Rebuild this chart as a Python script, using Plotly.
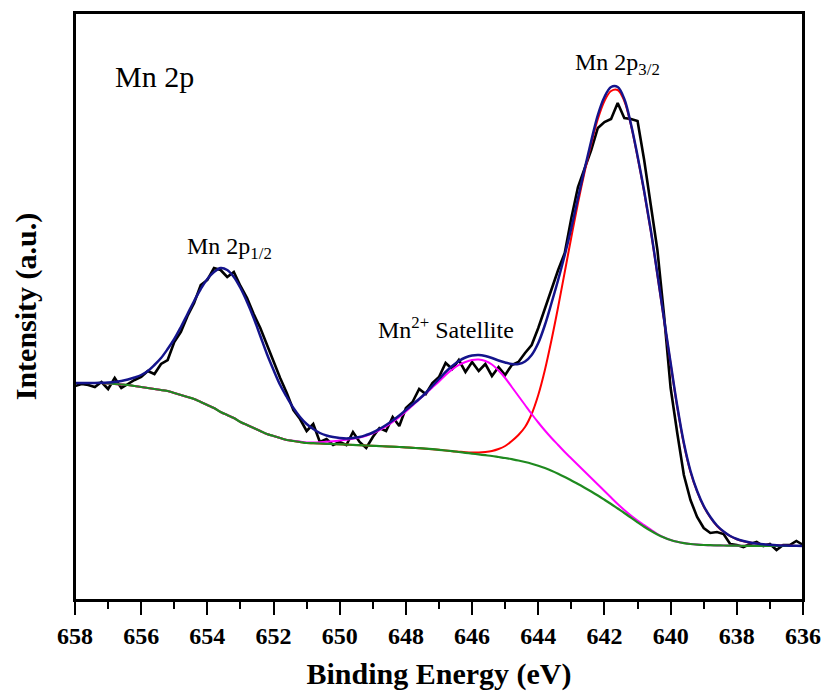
import plotly.graph_objects as go

# Binding energy grid (eV), 0.2 eV steps from 658 to 636
energy = [round(658 - 0.2 * i, 1) for i in range(111)]

# Measured spectrum (black), a.u.
data = [214, 216, 215, 213, 218, 211, 222, 212, 216, 220,
        223, 229, 226, 236, 240, 258, 268, 284, 297, 315,
        320, 332, 330, 323, 328, 314, 302, 286, 272, 255,
        238, 222, 207, 190, 181, 169, 176, 158, 161, 155,
        158, 155, 168, 158, 152, 163, 172, 169, 183, 174,
        192, 198, 211, 206, 217, 223, 237, 231, 240, 228,
        238, 229, 236, 224, 233, 225, 235, 238, 247, 255,
        272, 292, 310, 330, 347, 382, 413, 432, 450, 472,
        478, 481, 497, 482, 481, 479, 440, 395, 350, 285,
        212, 167, 125, 100, 83, 72, 67, 68, 66, 56,
        55, 53, 56, 58, 54, 56, 50, 55, 55, 59,
        55]

# Fitted envelope (navy)
envelope = [217, 217, 217, 217, 217.2, 217.5, 218, 219, 220.5, 222.5,
            225, 229, 235, 242, 251, 261, 273, 286, 299, 311,
            321, 328, 332, 330, 323, 312, 298, 282, 264, 246,
            230, 215, 203, 192, 183, 176, 171, 167, 164.5, 163,
            162, 161.5, 162, 163, 165, 167.5, 171, 175, 179.5, 184.5,
            190, 195.5, 201, 207, 214, 221, 228, 234, 239, 242.5,
            244.5, 245, 244, 242, 239.5, 237.5, 236, 236, 238.5, 245,
            257, 275, 297, 320, 345, 372, 402, 431, 459, 485,
            503, 513, 513, 501, 476, 444, 409, 370, 326, 281,
            237, 194, 157, 129, 109, 94, 83, 74.5, 68.5, 64,
            61, 59, 57.5, 56.5, 55.7, 55.2, 54.8, 54.5, 54.3, 54.2,
            54.1]

# Background (green)
background = [217, 217, 217, 217, 217, 216.5, 216, 215.5, 215, 214,
              213, 212, 211, 210, 209, 207, 205, 203, 201, 198,
              195, 192, 188, 185, 182, 178, 175, 172, 169, 166,
              164, 162, 160, 159, 158, 157, 156.8, 156.5, 156.2, 156,
              155.7, 155.4, 155.1, 154.8, 154.5, 154.2, 153.9, 153.6, 153.3, 153,
              152.6, 152.2, 151.8, 151.3, 150.8, 150.2, 149.5, 148.8, 148, 147.2,
              146.4, 145.6, 144.8, 144, 143, 142, 140.8, 139.5, 138, 136.3,
              134.3, 132, 129.3, 126.3, 123, 119.5, 116, 112.3, 108.5, 104.5,
              100.3, 96, 91.5, 87, 82.3, 77.7, 73.3, 69.2, 65.6, 62.5,
              60, 58.2, 56.9, 56, 55.4, 55, 54.8, 54.6, 54.5, 54.4,
              54.3, 54.2, 54.2, 54.1, 54.1, 54, 54, 54, 54, 54,
              54]

# Mn 2p3/2 component + background (red)
comp_2p32 = [217, 217, 217, 217, 217, 216.5, 216, 215.5, 215, 214,
             213, 212, 211, 210, 209, 207, 205, 203, 201, 198,
             195, 192, 188, 185, 182, 178, 175, 172, 169, 166,
             164, 162, 160, 159, 158, 157, 156.8, 156.5, 156.2, 156,
             155.7, 155.4, 155.1, 154.8, 154.5, 154.2, 153.9, 153.6, 153.3, 153,
             152.6, 152.2, 151.8, 151.3, 150.8, 150.2, 149.5, 148.8, 148.3, 147.8,
             147.5, 147.5, 148, 149, 151, 154, 159, 165, 173, 186,
             205, 230, 260, 293, 328, 363, 397, 428, 456, 481,
             499, 509, 510, 499, 475, 443, 408, 369, 325, 280,
             236, 193, 156, 128, 108.5, 93.5, 82.5, 74, 68.2, 63.8,
             60.8, 58.8, 57.4, 56.4, 55.6, 55.1, 54.7, 54.4, 54.2, 54.1,
             54]

# Mn2+ satellite component + background (magenta)
comp_sat = [217, 217, 217, 217, 217, 216.5, 216, 215.5, 215, 214,
            213, 212, 211, 210, 209, 207, 205, 203, 201, 198,
            195, 192, 188, 185, 182, 178, 175, 172, 169, 166,
            164, 162, 160, 159.2, 158.4, 157.6, 157.6, 157.8, 158.2, 158.8,
            159.5, 160.3, 161.3, 162.5, 164.3, 166.6, 169.8, 173.5, 178, 183,
            188.5, 194.5, 200.5, 206.5, 212.5, 218.5, 225, 230.5, 235, 238,
            240, 240.5, 239, 235.5, 229.5, 222, 213, 204, 195, 186,
            177.5, 169.5, 162, 155, 148, 141.5, 135, 128.5, 122, 115.5,
            109, 102.5, 96, 90, 84.5, 79.5, 75, 70.5, 66, 62.5,
            60, 58.2, 56.9, 56, 55.4, 55, 54.8, 54.6, 54.5, 54.4,
            54.3, 54.2, 54.2, 54.1, 54.1, 54, 54, 54, 54, 54,
            54]

FONT = "Liberation Serif"

fig = go.Figure()
fig.add_trace(go.Scatter(x=energy, y=data, mode="lines",
                         line=dict(color="black", width=2.6)))
fig.add_trace(go.Scatter(x=energy, y=comp_2p32, mode="lines",
                         line=dict(color="#ff0000", width=2, shape="spline")))
fig.add_trace(go.Scatter(x=energy, y=comp_sat, mode="lines",
                         line=dict(color="#ff00ff", width=2, shape="spline")))
fig.add_trace(go.Scatter(x=energy, y=background, mode="lines",
                         line=dict(color="#1f8a1f", width=2.2, shape="spline")))
fig.add_trace(go.Scatter(x=energy, y=envelope, mode="lines",
                         line=dict(color="#14148c", width=2.5, shape="spline")))

ann_font = dict(family=FONT, size=24, color="black")
fig.add_annotation(x=656.85, y=524, xref="x", yref="y", text="Mn 2p",
                   showarrow=False, xanchor="left", yanchor="middle",
                   font=dict(family=FONT, size=30, color="black"))
fig.add_annotation(x=654.68, y=352, xref="x", yref="y",
                   text="Mn 2p<sub>1/2</sub>", showarrow=False,
                   xanchor="left", yanchor="middle", font=ann_font)
fig.add_annotation(x=642.95, y=536, xref="x", yref="y",
                   text="Mn 2p<sub>3/2</sub>", showarrow=False,
                   xanchor="left", yanchor="middle", font=ann_font)
fig.add_annotation(x=648.9, y=272, xref="x", yref="y",
                   text="Mn<sup>2+</sup> Satellite", showarrow=False,
                   xanchor="left", yanchor="middle", font=ann_font)

# plot frame
fig.add_shape(type="rect", xref="paper", yref="paper", x0=0, x1=1, y0=0, y1=1,
              line=dict(color="black", width=2), fillcolor="rgba(0,0,0,0)",
              layer="above")

fig.update_layout(
    width=826, height=693,
    margin=dict(l=75, r=23, t=13, b=93, autoexpand=False),
    paper_bgcolor="white", plot_bgcolor="white",
    showlegend=False,
    font=dict(family=FONT, color="black"),
)
fig.update_xaxes(
    automargin=False,
    range=[658, 636], autorange=False,
    tick0=636, dtick=2, ticks="outside", ticklen=13, tickwidth=2,
    tickcolor="black",
    minor=dict(ticks="outside", ticklen=7, tickwidth=2, dtick=1,
               tickcolor="black", showgrid=False),
    showline=True, linewidth=2, linecolor="black", mirror=True,
    showgrid=False, zeroline=False,
    tickfont=dict(family=FONT, size=24, color="black", weight="bold"),
    title=dict(text="Binding Energy (eV)", standoff=15,
               font=dict(family=FONT, size=30, color="black", weight="bold")),
)
fig.update_yaxes(
    automargin=False,
    range=[0, 587], autorange=False,
    showticklabels=False, ticks="",
    showline=True, linewidth=2, linecolor="black", mirror=True,
    showgrid=False, zeroline=False,
    title=dict(text="Intensity (a.u.)", standoff=28,
               font=dict(family=FONT, size=30, color="black", weight="bold")),
)

fig.write_html("out.html")
